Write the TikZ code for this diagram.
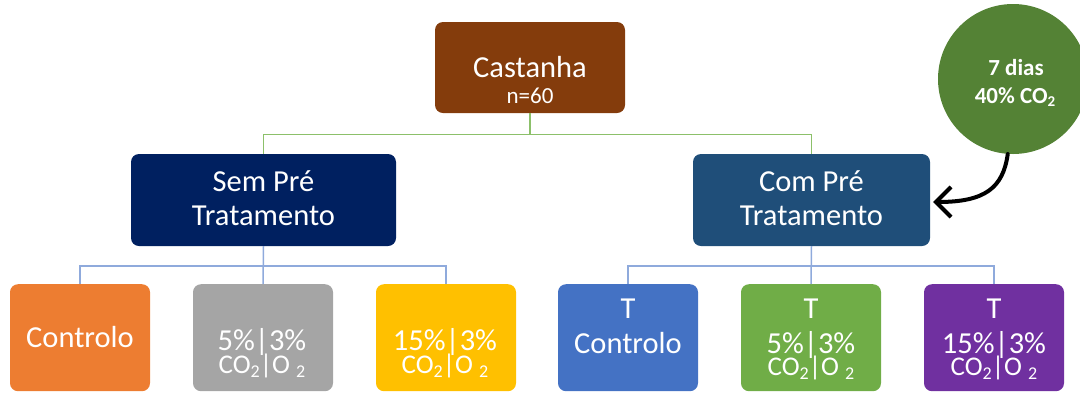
\documentclass[tikz,border=0pt]{standalone}
\usepackage{fontspec}
\setmainfont{Carlito}
\usetikzlibrary{arrows.meta}
\definecolor{cBrown}{HTML}{843C0C}
\definecolor{cNavy}{HTML}{002060}
\definecolor{cSteel}{HTML}{1F4E79}
\definecolor{cOrange}{HTML}{ED7D31}
\definecolor{cGray}{HTML}{A5A5A5}
\definecolor{cGold}{HTML}{FFC000}
\definecolor{cBlue}{HTML}{4472C4}
\definecolor{cGreen}{HTML}{70AD47}
\definecolor{cPurple}{HTML}{7030A0}
\definecolor{cCirc}{HTML}{548235}
\definecolor{cLineG}{HTML}{8CC06A}
\definecolor{cLineB}{HTML}{8FAADC}
\newcommand{\mysub}[1]{\raisebox{-0.35ex}{\fontsize{18}{18}\selectfont #1}}
\newcommand{\gasline}{{\fontsize{27}{30}\selectfont CO\mysub{2}|O \mysub{2}}}
\newcommand{\pct}[1]{#1\%|3\%}
% two centred lines, baseline of the node = baseline of the first line
\newcommand{\twolines}[3]{\vtop{\baselineskip=#3\lineskiplimit=-100pt\lineskip=0pt
  \halign{\hfil##\hfil\cr #1\cr #2\cr}}}
\tikzset{
  boxnode/.style={rounded corners=8pt, inner sep=0pt, draw=none},
  topbox/.style={boxnode, minimum width=140pt, minimum height=107pt},
  txt/.style={text=white, anchor=base, inner sep=0pt, font=\fontsize{30.5}{36}\selectfont},
  smalltxt/.style={text=white, anchor=base, inner sep=0pt, font=\fontsize{23}{28}\selectfont},
  circtxt/.style={text=white, anchor=base, inner sep=0pt, font=\fontsize{23}{28}\selectfont\bfseries},
  gline/.style={draw=cLineG, line width=1.3pt},
  bline/.style={draw=cLineB, line width=1.5pt},
  arr/.style={draw=black, line width=4pt, line cap=round, -{Straight Barb[length=15pt,width=30pt,line width=4pt]}}
}
\begin{document}
\begin{tikzpicture}[x=1pt,y=-1pt]
\useasboundingbox (0,0) rectangle (1080,392);
% top
\node[boxnode, fill=cBrown, minimum width=190pt, minimum height=91pt] (cast) at (530,67.5) {};
\node[txt] (castT) at (530,77) {Castanha};
\node[smalltxt] (castN) at (530,103) {n=60};
% second level
\node[boxnode, fill=cNavy, minimum width=265pt, minimum height=92pt] (sem) at (263.5,200) {};
\node[txt] (semA) at (263.5,191) {Sem Pré};
\node[txt] (semB) at (263.5,225) {Tratamento};
\node[boxnode, fill=cSteel, minimum width=237pt, minimum height=92pt] (com) at (811.5,200) {};
\node[txt] (comA) at (811.5,191) {Com Pré};
\node[txt] (comB) at (811.5,225) {Tratamento};
% circle
\node[circle, fill=cCirc, minimum size=150pt, inner sep=0pt] (dias) at (1013,79) {};
\node[circtxt] (diasA) at (1016,75) {7 dias};
\node[circtxt] (diasB) at (1015,103) {40\% CO\raisebox{-0.35ex}{\fontsize{15}{15}\selectfont 2}};
% bottom boxes
\node[topbox, fill=cOrange, anchor=north] (b1) at (80,284) {};
\node[topbox, fill=cGray, anchor=north] (b2) at (263,284) {};
\node[topbox, fill=cGold, anchor=north] (b3) at (446,284) {};
\node[topbox, fill=cBlue, anchor=north] (b4) at (628,284) {};
\node[topbox, fill=cGreen, anchor=north] (b5) at (811,284) {};
\node[topbox, fill=cPurple, anchor=north] (b6) at (994,284) {};
% bottom texts
\node[txt] (t1) at (80,347) {Controlo};
\node[txt] (t2) at (262,350) {\twolines{\pct{5}}{\gasline}{23pt}};
\node[txt] (t3) at (445,350) {\twolines{\pct{15}}{\gasline}{23pt}};
\node[txt] (t4) at (628,318) {\twolines{T}{Controlo}{35pt}};
\node[txt] (t5) at (811,318) {\twolines{T}{\twolines{\pct{5}}{\gasline}{22pt}}{35pt}};
\node[txt] (t6) at (994,318) {\twolines{T}{\twolines{\pct{15}}{\gasline}{22pt}}{35pt}};
% connectors
\draw[gline] (cast.south) -- ++(0,21) -| (sem.north);
\draw[gline] (cast.south) -- ++(0,21) -| (com.north);
\draw[bline] (sem.south) -- ++(0,20) -| (b1.north);
\draw[bline] (sem.south) -- (b2.north);
\draw[bline] (sem.south) -- ++(0,20) -| (b3.north);
\draw[bline] (com.south) -- ++(0,20) -| (b4.north);
\draw[bline] (com.south) -- (b5.north);
\draw[bline] (com.south) -- ++(0,20) -| (b6.north);
% arrow
\draw[arr] (dias.-94) .. controls (1003,188) and (985,202) .. ([shift={(3,2)}]com.east);
\end{tikzpicture}
\end{document}
